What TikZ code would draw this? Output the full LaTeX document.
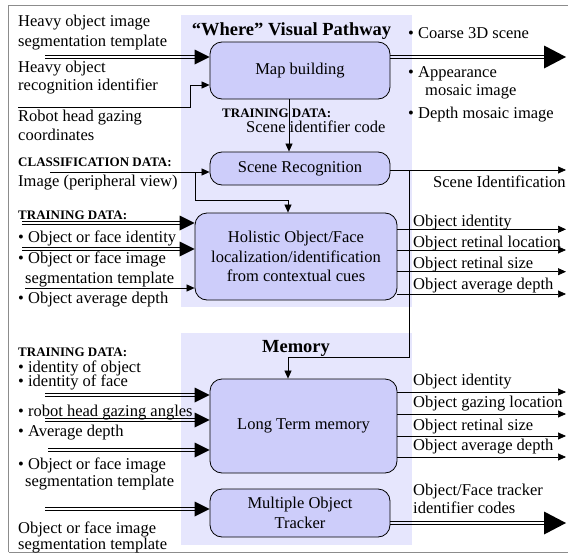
\documentclass[tikz,border=0pt]{standalone}
\usepackage{fontspec}
\setmainfont{Liberation Serif}
\usetikzlibrary{arrows.meta,calc}
\definecolor{regionfill}{RGB}{230,230,253}
\definecolor{boxfill}{RGB}{205,205,250}
\definecolor{framegray}{RGB}{140,140,140}

% twin-line shaft ending in a filled triangular head pointing right:
% \dblarrow{from}{to}{head length}{head width}
\newcommand\dblarrow[4]{%
  \draw[shaft] ($(#1)+(0,1.6)$) -- ($(#2)+(-#3+0.5,1.6)$);
  \draw[shaft] ($(#1)+(0,-1.6)$) -- ($(#2)+(-#3+0.5,-1.6)$);
  \fill[black] (#2) -- ++(-#3,0.5*#4) -- ++(0,-#4) -- cycle;}

\begin{document}
\begin{tikzpicture}[x=1pt,y=-1pt,
  txt/.style={anchor=base west, inner sep=0, font=\fontsize{16.5}{19.5}\selectfont},
  hdr/.style={anchor=base west, inner sep=0, font=\fontsize{13}{15}\selectfont\bfseries},
  ttl/.style={anchor=base, inner sep=0, font=\fontsize{18.5}{22}\selectfont\bfseries},
  box/.style={draw=black, line width=0.8pt, fill=boxfill, rounded corners=12pt,
    align=center, inner sep=0, font=\fontsize{16.5}{19.5}\selectfont},
  sgl/.style={draw=black, line width=0.7pt, -{Triangle[length=8pt,width=7pt]}},
  shaft/.style={draw=black, line width=0.8pt},
]
\useasboundingbox (0,0) rectangle (568,554);

% outer frame
\draw[framegray, line width=1pt] (8.5,552) -- (8.5,5) -- (570,5);
\draw[framegray, line width=1pt] (8.5,552) -- (570,552);

% shaded regions
\fill[regionfill] (181,15) rectangle (412,307);
\fill[regionfill] (181,333) rectangle (412,545);

% titles
\node[ttl] (wtitle) at (291.5,35) {``Where'' Visual Pathway};
\node[ttl] (mtitle) at (296,352) {Memory};

% processing blocks
\node[box, minimum width=180pt, minimum height=57pt] (map) at (300,70.5) {Map building};
\node[box, minimum width=180pt, minimum height=33pt] (scene) at (300,168.5) {Scene Recognition};
\node[box, minimum width=202pt, minimum height=87pt] (holo) at (296,256.5)
  {Holistic Object/Face\\localization/identification\\from contextual cues};
\node[box, minimum width=187pt, minimum height=94pt] (ltm) at (303.5,426) {Long Term memory};
\node[box, minimum width=180pt, minimum height=48pt] (mot) at (300,513) {Multiple Object\\Tracker};

% left-hand labels, upper part
\node[txt] (l1) at (18,27) {Heavy object image};
\node[txt] (l2) at (18,46.5) {segmentation template};
\node[txt] (l3) at (18,72.5) {Heavy object};
\node[txt] (l4) at (18,90.5) {recognition identifier};
\node[txt] (l5) at (18,121.5) {Robot head gazing};
\node[txt] (l6) at (18,140) {coordinates};
\node[hdr] (l7) at (18,166.5) {CLASSIFICATION DATA:};
\node[txt] (l8) at (18,186.5) {Image (peripheral view)};
\node[hdr] (l9) at (18,219) {TRAINING DATA:};
\node[txt] (l10) at (18,242) {\textbullet\ Object or face identity};
\node[txt] (l11) at (18,263) {\textbullet\ Object or face image};
\node[txt] (l12) at (25,283) {segmentation template};
\node[txt] (l13) at (18,303) {\textbullet\ Object average depth};

% middle labels
\node[hdr] (m1) at (222,117) {TRAINING DATA:};
\node[txt] (m2) at (246,132) {Scene identifier code};

% right-hand labels, upper part
\node[txt] (r1) at (408,38) {\textbullet\ Coarse 3D scene};
\node[txt] (r2) at (408,77) {\textbullet\ Appearance};
\node[txt] (r3) at (425,95) {mosaic image};
\node[txt] (r4) at (408,118) {\textbullet\ Depth mosaic image};
\node[txt] (r5) at (433,187) {Scene Identification};
\node[txt] (r6) at (413,226.5) {Object identity};
\node[txt] (r7) at (413,247.5) {Object retinal location};
\node[txt] (r8) at (413,268.5) {Object retinal size};
\node[txt] (r9) at (413,289) {Object average depth};

% left-hand labels, memory part
\node[hdr] (n1) at (18,356) {TRAINING DATA:};
\node[txt] (n2) at (18,372) {\textbullet\ identity of object};
\node[txt] (n3) at (18,386.5) {\textbullet\ identity of face};
\node[txt] (n4) at (18,416.5) {\textbullet\ robot head gazing angles};
\node[txt] (n5) at (18,436) {\textbullet\ Average depth};
\node[txt] (n6) at (18,469) {\textbullet\ Object or face image};
\node[txt] (n7) at (25,486) {segmentation template};
\node[txt] (n8) at (18,533) {Object or face image};
\node[txt] (n9) at (18,549) {segmentation template};

% right-hand labels, memory part
\node[txt] (s1) at (413,385) {Object identity};
\node[txt] (s2) at (413,407) {Object gazing location};
\node[txt] (s3) at (413,430) {Object retinal size};
\node[txt] (s4) at (413,450) {Object average depth};
\node[txt] (s5) at (413,495) {Object/Face tracker};
\node[txt] (s6) at (413,513) {identifier codes};

% free ends of the connectors
\coordinate (i1) at (45,57);
\coordinate (i2) at (18,107);
\coordinate (i2k) at (190,85);
\coordinate (i3) at (50,172);
\coordinate (i3k) at (195,172);
\coordinate (i3t) at (288,200);
\coordinate (i4) at (22,223);
\coordinate (i5) at (22,249);
\coordinate (i6) at (25,288);
\coordinate (j1) at (409,170);
\coordinate (j2) at (288,357);
\coordinate (k1) at (45,395);
\coordinate (k2) at (45,420);
\coordinate (k3) at (48,450);
\coordinate (k4) at (45,509);
\coordinate (o1) at (566,57);
\coordinate (o2) at (566,170);
\coordinate (o3) at (566,229.3);
\coordinate (o4) at (566,250);
\coordinate (o5) at (566,271.7);
\coordinate (o6) at (566,294);
\coordinate (p1) at (566,392);
\coordinate (p2) at (566,414);
\coordinate (p3) at (566,436);
\coordinate (p4) at (566,457);
\coordinate (p5) at (566,523);

% inputs to map building
\dblarrow{i1}{i1 -| map.west}{15}{15}
\draw[sgl] (i2) -| (i2k) -- (i2k -| map.west);

% map building to scene recognition
\draw[sgl] ([xshift=-11pt]map.south) -- ([xshift=-11pt]scene.north);

% classification input and its branch to the holistic block
\draw[sgl] (i3) -- (i3 -| scene.west);
\draw[sgl] (i3k) |- (i3t) -- (i3t |- holo.north);

% training inputs to the holistic block
\dblarrow{i4}{i4 -| holo.west}{15}{15}
\dblarrow{i5}{i5 -| holo.west}{15}{15}
\draw[sgl] (i6) -- (i6 -| holo.west);

% outputs of the upper blocks
\dblarrow{o1 -| map.east}{o1}{22}{23}
\draw[sgl] (o2 -| scene.east) -- (o2);
\draw[sgl] (o3 -| holo.east) -- (o3);
\draw[sgl] (o4 -| holo.east) -- (o4);
\draw[sgl] (o5 -| holo.east) -- (o5);
\draw[sgl] (o6 -| holo.east) -- (o6);

% scene identity fed down to long term memory
\draw[sgl] (j1) |- (j2) -- (j2 |- ltm.north);

% inputs to the memory blocks
\dblarrow{k1}{k1 -| ltm.west}{15}{15}
\dblarrow{k2}{k2 -| ltm.west}{15}{15}
\dblarrow{k3}{k3 -| ltm.west}{15}{15}
\dblarrow{k4}{k4 -| mot.west}{15}{15}

% outputs of the memory blocks
\draw[sgl] (p1 -| ltm.east) -- (p1);
\draw[sgl] (p2 -| ltm.east) -- (p2);
\draw[sgl] (p3 -| ltm.east) -- (p3);
\draw[sgl] (p4 -| ltm.east) -- (p4);
\dblarrow{p5 -| mot.east}{p5}{22}{23}
\end{tikzpicture}
\end{document}
